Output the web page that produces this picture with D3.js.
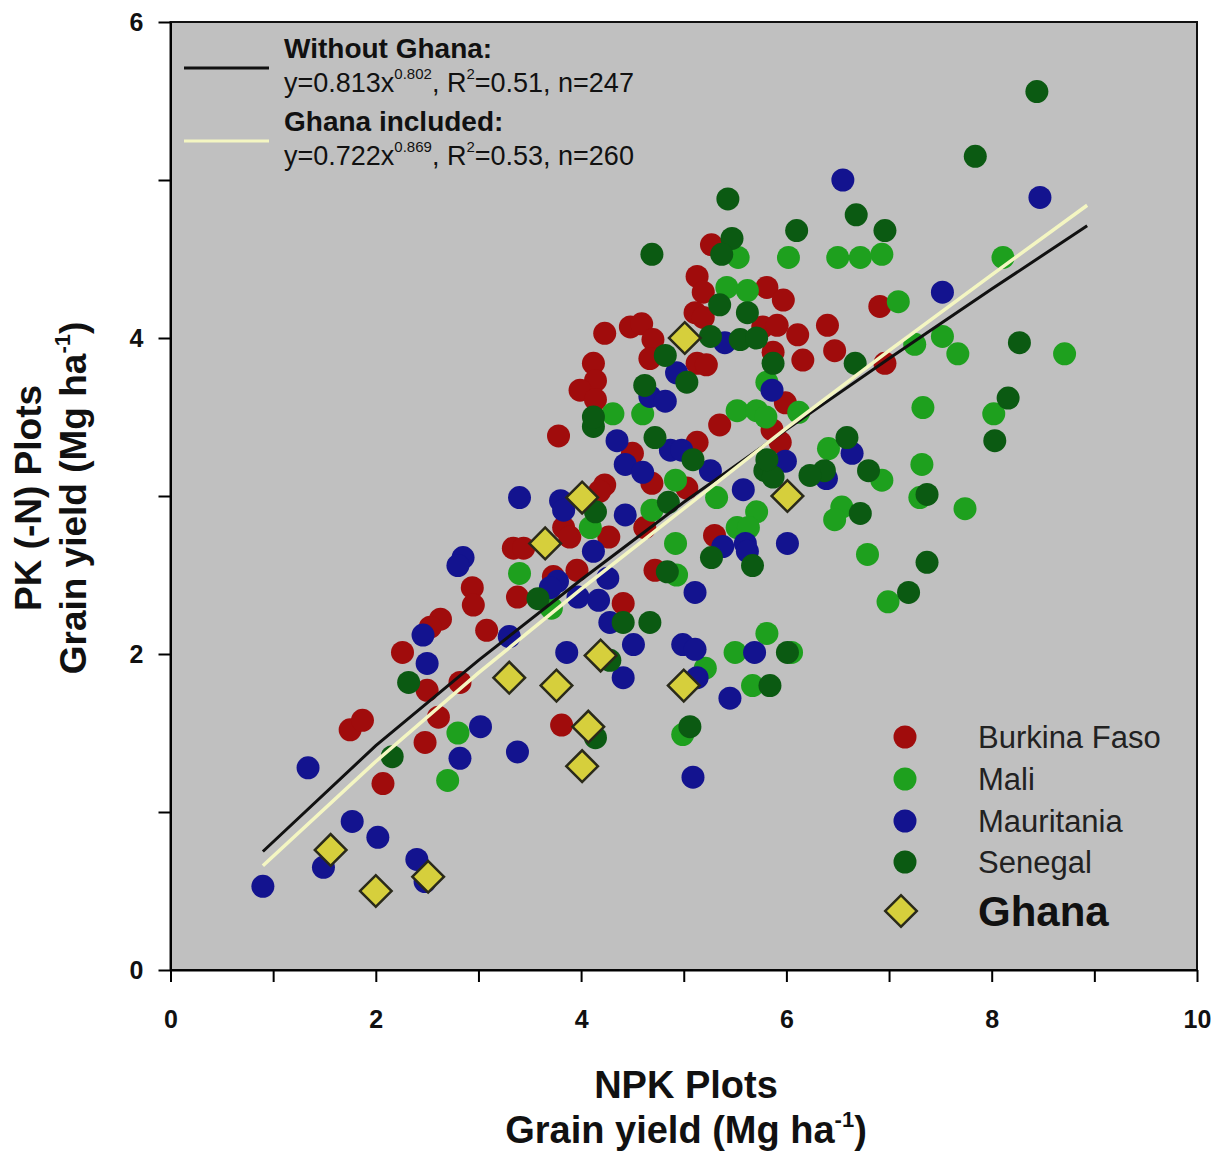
<!DOCTYPE html>
<html>
<head>
<meta charset="utf-8">
<script src="https://cdn.jsdelivr.net/npm/d3@7"></script>
<style>
  body { margin: 0; background: #fff; }
  svg { display: block; font-family: "Liberation Sans", Arial, sans-serif; }
</style>
</head>
<body>
<svg id="drawing_region"></svg>
<script>
// grain yield pairs [NPK plots, PK (-N) plots], Mg/ha
const burkinaFaso = [
  [2.26,2.01],[1.75,1.52],[1.87,1.58],[2.07,1.18],[2.48,1.44],[2.61,1.60],[2.82,1.82],[2.50,1.77],
  [3.78,3.38],[3.83,2.80],[3.89,2.74],[3.34,2.67],[3.44,2.67],[3.96,2.53],[3.73,2.49],[2.94,2.42],
  [2.95,2.31],[3.38,2.36],[2.63,2.22],[2.53,2.17],[3.08,2.15],
  [5.27,4.59],[5.13,4.39],[5.19,4.29],[5.81,4.32],[5.97,4.24],[5.11,4.16],[5.19,4.13],[4.23,4.03],
  [4.48,4.07],[4.59,4.09],[4.70,3.99],[5.77,4.07],[5.91,4.08],[6.11,4.02],[5.87,3.91],[6.16,3.86],
  [4.67,3.87],[5.13,3.84],[5.22,3.83],[4.12,3.84],[4.14,3.73],[3.99,3.67],[4.14,3.61],[5.99,3.59],
  [6.91,4.20],[6.40,4.08],[6.47,3.92],[6.96,3.84],
  [5.13,3.34],[4.50,3.27],[4.69,3.08],[4.23,3.07],[4.18,3.03],[5.03,3.05],[4.27,2.74],[4.62,2.80],
  [5.94,3.34],[5.35,3.45],[5.86,3.42],[5.30,2.75],[4.72,2.53],[4.41,2.32],[3.81,1.55]
];
const mali = [
  [2.80,1.50],[2.70,1.20],[3.40,2.51],[4.09,2.80],[3.71,2.29],[5.53,4.51],[6.02,4.51],[5.42,4.32],
  [5.62,4.30],[4.31,3.52],[4.60,3.52],[5.81,3.72],[5.52,3.54],[5.71,3.54],[5.80,3.50],[6.12,3.53],
  [6.50,4.51],[6.72,4.51],[6.93,4.53],[8.11,4.51],[7.09,4.23],[7.25,3.96],[7.52,4.01],[7.67,3.90],
  [8.71,3.90],[7.33,3.56],[8.02,3.52],[6.41,3.30],[6.93,3.10],[7.32,3.20],[7.30,2.99],[7.74,2.92],
  [6.54,2.93],[6.47,2.85],[6.79,2.63],[6.99,2.33],[4.92,3.10],[4.69,2.91],[5.32,2.99],[5.71,2.90],
  [5.52,2.80],[5.63,2.80],[4.92,2.70],[4.93,2.50],[5.81,2.13],[5.21,1.91],[5.50,2.01],[6.05,2.01],
  [5.67,1.80],[4.99,1.49]
];
const mauritania = [
  [0.90,0.53],[1.34,1.28],[1.49,0.65],[1.77,0.94],[2.02,0.84],[2.40,0.70],[2.48,0.56],[2.82,1.34],
  [3.02,1.54],[2.50,1.94],[2.46,2.12],[3.38,1.38],[3.40,2.99],[3.80,2.97],[3.83,2.91],[2.85,2.61],
  [2.80,2.56],[4.12,2.65],[3.77,2.46],[3.70,2.42],[3.97,2.36],[4.17,2.34],[3.30,2.11],[5.40,3.97],
  [4.93,3.78],[4.67,3.63],[4.82,3.60],[5.86,3.67],[6.55,5.00],[8.47,4.89],[7.52,4.29],[6.64,3.27],
  [6.39,3.11],[4.35,3.35],[4.87,3.29],[4.98,3.29],[4.43,3.20],[4.60,3.15],[5.26,3.16],[4.43,2.88],
  [5.58,3.04],[5.99,3.22],[5.38,2.68],[5.60,2.70],[5.62,2.65],[6.01,2.70],[4.26,2.48],[4.28,2.20],
  [5.11,2.39],[3.86,2.01],[4.51,2.06],[4.41,1.85],[4.99,2.06],[5.11,2.03],[5.13,1.85],[5.45,1.72],
  [5.69,2.01],[5.09,1.22]
];
const senegal = [
  [2.32,1.82],[2.16,1.35],[4.12,3.44],[4.14,2.90],[3.58,2.35],[5.43,4.88],[6.10,4.68],[4.69,4.53],
  [5.47,4.63],[5.37,4.53],[5.35,4.21],[5.62,4.16],[5.26,4.01],[5.55,3.99],[5.71,4.00],[5.87,3.84],
  [4.82,3.89],[5.03,3.72],[4.62,3.70],[4.12,3.50],[8.44,5.56],[7.84,5.15],[6.68,4.78],[6.96,4.68],
  [6.67,3.84],[8.27,3.97],[8.16,3.62],[8.03,3.35],[6.59,3.37],[6.37,3.16],[6.80,3.16],[7.37,3.01],
  [6.72,2.89],[7.37,2.58],[7.19,2.39],[4.72,3.37],[5.09,3.23],[4.85,2.96],[5.79,3.16],[5.87,3.12],
  [5.81,3.23],[6.23,3.13],[5.27,2.61],[5.67,2.56],[4.84,2.52],[4.41,2.20],[4.67,2.20],[6.01,2.01],
  [5.84,1.80],[5.06,1.54],[4.14,1.47],[4.28,1.96]
];
const ghana = [
  [1.56,0.76],[2.00,0.50],[2.51,0.59],[3.30,1.85],[3.76,1.80],[4.07,1.54],[4.01,1.29],
  [4.19,1.99],[5.00,1.80],[3.65,2.70],[4.01,2.99],[5.01,4.00],[6.01,3.00]
];

// fitted curves
const fitX = [0.9, 2, 3, 4, 5, 6, 7, 8, 8.93];
const fitWithoutGhana = [0.75, 1.42, 1.96, 2.47, 2.96, 3.42, 3.87, 4.31, 4.71];
const fitGhanaIncluded = [0.66, 1.32, 1.88, 2.41, 2.92, 3.43, 3.92, 4.40, 4.84];

const xTicks = [0, 1, 2, 3, 4, 5, 6, 7, 8, 9, 10];
const yTicks = [0, 1, 2, 3, 4, 5, 6];

const countries = ["Burkina Faso", "Mali", "Mauritania", "Senegal"];
const countryData = [burkinaFaso, mali, mauritania, senegal];
const countryColors = ["#a00c0c", "#1ea01e", "#13138f", "#0b5a12"];

const svg = d3.select("#drawing_region")
    .attr("width", 1220)
    .attr("height", 1156);

const xscale = d3.scaleLinear().domain([0, 10]).range([170.5, 1197]);
const yscale = d3.scaleLinear().domain([0, 6]).range([970, 22]);

// plot background
svg.append("rect")
    .attr("x", xscale(0)).attr("y", yscale(6))
    .attr("width", xscale(10) - xscale(0))
    .attr("height", yscale(0) - yscale(6))
    .attr("fill", "#c0c0c0");

// points
countryData.forEach((pts, i) => {
    svg.append("g").selectAll("circle")
        .data(pts)
        .enter()
        .append("circle")
        .attr("cx", d => xscale(d[0]))
        .attr("cy", d => yscale(d[1]))
        .attr("r", 11.5)
        .attr("fill", countryColors[i]);
});

// fit lines
const line = d3.line().x(d => xscale(d[0])).y(d => yscale(d[1]));
svg.append("path")
    .datum(fitX.map((x, i) => [x, fitWithoutGhana[i]]))
    .attr("d", line).attr("fill", "none")
    .attr("stroke", "#111").attr("stroke-width", 3);
svg.append("path")
    .datum(fitX.map((x, i) => [x, fitGhanaIncluded[i]]))
    .attr("d", line).attr("fill", "none")
    .attr("stroke", "#f4f6c2").attr("stroke-width", 3.5);

// ghana diamonds
const diamond = d3.symbol(d3.symbolSquare, 500);
svg.append("g").selectAll("path")
    .data(ghana)
    .enter()
    .append("path")
    .attr("d", diamond)
    .attr("transform", d => `translate(${xscale(d[0])},${yscale(d[1])}) rotate(45)`)
    .attr("fill", "#d6cf3c")
    .attr("stroke", "#2a2a1a")
    .attr("stroke-width", 2.5);

// frame
svg.append("rect")
    .attr("x", xscale(0)).attr("y", yscale(6))
    .attr("width", xscale(10) - xscale(0))
    .attr("height", yscale(0) - yscale(6))
    .attr("fill", "none")
    .attr("stroke", "#111").attr("stroke-width", 2);

// axes
const xaxis = d3.axisBottom(xscale)
    .tickValues(xTicks)
    .tickSize(12).tickSizeOuter(0).tickPadding(28)
    .tickFormat(d => d % 2 === 0 ? d : "");
const yaxis = d3.axisLeft(yscale)
    .tickValues(yTicks)
    .tickSize(12).tickSizeOuter(0).tickPadding(15)
    .tickFormat(d => d % 2 === 0 ? d : "");

const xg = svg.append("g").attr("transform", `translate(0,${yscale(0)})`).call(xaxis);
const yg = svg.append("g").attr("transform", `translate(${xscale(0)},0)`).call(yaxis);
[xg, yg].forEach(g => {
    g.select(".domain").attr("stroke-width", 2);
    g.selectAll(".tick line").attr("stroke-width", 2);
    g.selectAll(".tick text")
        .attr("font-size", "25px")
        .attr("font-weight", "bold")
        .attr("fill", "#111");
});

// axis titles
const title = svg.append("g")
    .attr("font-weight", "bold").attr("font-size", "38px")
    .attr("fill", "#111").attr("text-anchor", "middle");
title.append("text").attr("x", 686).attr("y", 1098).text("NPK Plots");
const xt2 = title.append("text").attr("x", 686).attr("y", 1143);
xt2.append("tspan").text("Grain yield (Mg ha");
xt2.append("tspan").attr("font-size", "22px").attr("dy", -16).text("-1");
xt2.append("tspan").attr("dy", 16).text(")");

const yt = title.append("g").attr("transform", "translate(0,498) rotate(-90)");
yt.append("text").attr("x", 0).attr("y", 41).attr("font-size", "37px").text("PK (-N) Plots");
const yt2 = yt.append("text").attr("x", 0).attr("y", 86).attr("font-size", "37px");
yt2.append("tspan").text("Grain yield (Mg ha");
yt2.append("tspan").attr("font-size", "22px").attr("dy", -16).text("-1");
yt2.append("tspan").attr("dy", 16).text(")");

// regression legend
const fitLegend = [
    {head: "Without Ghana:", a: "y=0.813x", p: "0.802", r: "0.51", n: "247", color: "#111", y: 68},
    {head: "Ghana included:", a: "y=0.722x", p: "0.869", r: "0.53", n: "260", color: "#f4f6c2", y: 141}
];
fitLegend.forEach(d => {
    svg.append("line")
        .attr("x1", 184).attr("x2", 269)
        .attr("y1", d.y).attr("y2", d.y)
        .attr("stroke", d.color).attr("stroke-width", 3);
    svg.append("text")
        .attr("x", 284).attr("y", d.y - 10)
        .attr("font-size", "28px").attr("font-weight", "bold").attr("fill", "#111")
        .text(d.head);
    const t = svg.append("text")
        .attr("x", 284).attr("y", d.y + 24)
        .attr("font-size", "27px").attr("fill", "#111");
    t.append("tspan").text(d.a);
    t.append("tspan").attr("font-size", "15px").attr("dy", -13).text(d.p);
    t.append("tspan").attr("dy", 13).text(", R");
    t.append("tspan").attr("font-size", "15px").attr("dy", -13).text("2");
    t.append("tspan").attr("dy", 13).text(`=${d.r}, n=${d.n}`);
});

// country legend
const legendY = [737, 779, 821, 862];
countries.forEach((c, i) => {
    svg.append("circle")
        .attr("cx", 905).attr("cy", legendY[i]).attr("r", 11.5)
        .attr("fill", countryColors[i]);
    svg.append("text")
        .attr("x", 978).attr("y", legendY[i]).attr("dy", "0.36em")
        .attr("font-size", "31px").attr("fill", "#222")
        .text(c);
});
svg.append("path")
    .attr("d", diamond)
    .attr("transform", "translate(901,911) rotate(45)")
    .attr("fill", "#d6cf3c")
    .attr("stroke", "#2a2a1a")
    .attr("stroke-width", 2.5);
svg.append("text")
    .attr("x", 978).attr("y", 911).attr("dy", "0.36em")
    .attr("font-size", "42px").attr("font-weight", "bold").attr("fill", "#111")
    .text("Ghana");
</script>
</body>
</html>
